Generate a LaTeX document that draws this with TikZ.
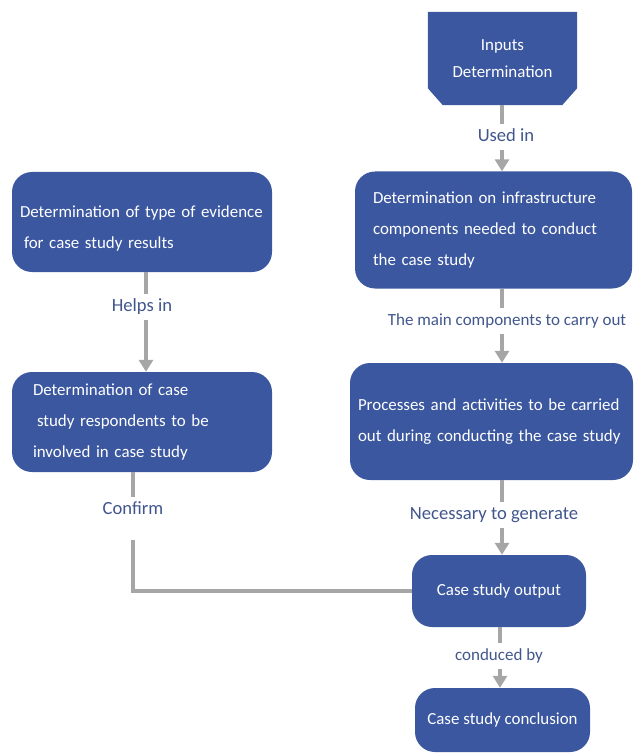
\documentclass[tikz,border=0pt]{standalone}
\usepackage{fontspec}
\setmainfont{Carlito}
\usetikzlibrary{arrows.meta,backgrounds}
\definecolor{boxblue}{RGB}{59,87,160}
\definecolor{lblblue}{RGB}{64,86,140}
\definecolor{conngray}{RGB}{166,166,166}
\begin{document}
\begin{tikzpicture}[x=1pt,y=-1pt,
  box/.style={fill=boxblue, draw=none, rounded corners=20pt, text=white, inner xsep=0pt, inner ysep=0pt,
    font=\fontsize{16.9}{31}\selectfont, align=left},
  lbl/.style={text=lblblue, font=\fontsize{18.6}{22}\selectfont, inner xsep=2pt, inner ysep=5pt, text height=12pt, text depth=3.5pt},
  lbls/.style={lbl, font=\fontsize{17}{20}\selectfont},
  conn/.style={draw=conngray, line width=3.5pt},
  arr/.style={conn, -{Triangle[width=14pt,length=12pt]}}
]
\useasboundingbox (0,0) rectangle (633,754);

% boxes
\node[text=white, font=\fontsize{16.9}{27}\selectfont, align=center, minimum width=149pt, minimum height=93pt, inner sep=0pt] (inp) at (502.5,58.5) {Inputs\\Determination};
\begin{scope}[on background layer]
\fill[boxblue] (inp.north west) -- (inp.north east) -- ([yshift=17pt]inp.south east) -- ([xshift=-15pt]inp.south east) -- ([xshift=15pt]inp.south west) -- ([yshift=17pt]inp.south west) -- cycle;
\end{scope}

\node[box, minimum width=277pt, minimum height=117pt, text width=241pt] (infra) at (493.5,230)
  {\mbox{Determination on infrastructure}\\\mbox{components needed to conduct}\\\mbox{the case study}};
\node[box, minimum width=283pt, minimum height=117pt, text width=267pt] (proc) at (491.5,421.5)
  {\mbox{Processes and activities to be carried}\\\mbox{out during conducting the case study}};
\node[box, minimum width=260pt, minimum height=100pt, text width=244pt] (lt) at (142,222)
  {\rule{0pt}{24pt}\mbox{Determination of type of evidence}\\\mbox{\hspace*{4pt}for case study results}};
\node[box, minimum width=260pt, minimum height=100pt, text width=218pt] (lm) at (142,422)
  {\mbox{Determination of case}\\\mbox{\hspace*{4pt}study respondents to be}\\\mbox{involved in case study}};
\node[box, align=center, minimum width=174pt, minimum height=72pt] (out) at (499,591) {Case study output};
\node[box, align=center, minimum width=175pt, minimum height=64pt] (concl) at (502.5,720) {Case study conclusion};

% labels
\node[lbl] (l1) at (506,137) {Used in};
\node[lbls] (l2) at (507,321) {The main components to carry out};
\node[lbl] (l3) at (494,515) {Necessary to generate};
\node[lbls] (l4) at (499,656) {conduced by};
\node[lbl] (l5) at (142,307) {Helps in};
\node[lbl] (l6) at (133,510) {Confirm};

\coordinate (rx) at (502,0);
\coordinate (rx2) at (500,0);
\coordinate (lx) at (146,0);
\coordinate (cx) at (133,0);
\coordinate (cfstart) at (133,540);

% connectors
\draw[conn] (inp.south -| rx) -- (l1.north -| rx);
\draw[arr] (l1.south -| rx) -- (infra.north -| rx);
\draw[conn] (infra.south -| rx) -- (l2.north -| rx);
\draw[arr] (l2.south -| rx) -- (proc.north -| rx);
\draw[conn] (proc.south -| rx) -- (l3.north -| rx);
\draw[arr] (l3.south -| rx) -- (out.north -| rx);
\draw[conn] (out.south -| rx2) -- (l4.north -| rx2);
\draw[arr] (l4.south -| rx2) -- (concl.north -| rx2);
\draw[conn] (lt.south -| lx) -- (l5.north -| lx);
\draw[arr] (l5.south -| lx) -- (lm.north -| lx);
\draw[conn] (lm.south -| cx) -- (l6.north -| cx);
\draw[conn] (cfstart) |- (out.west);
\end{tikzpicture}
\end{document}
